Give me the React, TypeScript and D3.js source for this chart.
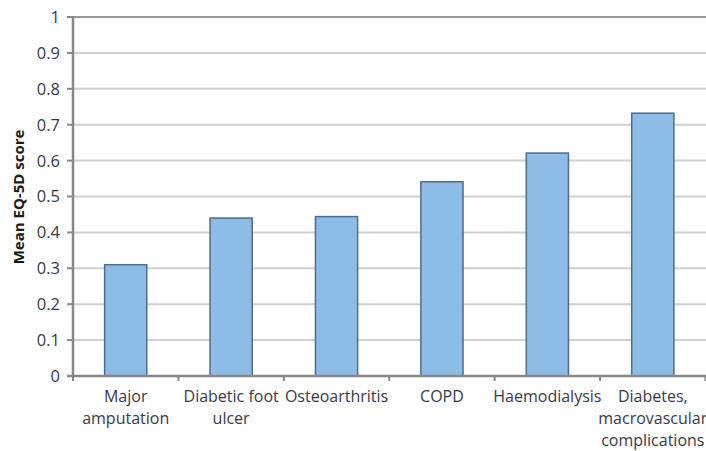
import React from "react";
import * as d3 from "d3";

const categories: string[][] = [
  ["Major", "amputation"],
  ["Diabetic foot", "ulcer"],
  ["Osteoarthritis"],
  ["COPD"],
  ["Haemodialysis"],
  ["Diabetes,", "macrovascular", "complications"],
];
const values: number[] = [0.31, 0.44, 0.444, 0.541, 0.621, 0.732];
const yTicks: number[] = [0, 0.1, 0.2, 0.3, 0.4, 0.5, 0.6, 0.7, 0.8, 0.9, 1];
const yTitle = "Mean EQ-5D score";

const W = 706;
const H = 451;
const left = 73;
const right = 705.5;
const top = 17;
const bottom = 376;
const FONT = "'Open Sans', sans-serif";
const TEXT = "#3a3a4a";

export default function App() {
  const ids = categories.map((_, i) => String(i));
  const x = d3.scaleBand<string>().domain(ids).range([left, right]).paddingInner(0.6).paddingOuter(0.3);
  const y = d3.scaleLinear().domain([0, 1]).range([bottom, top]);
  const step = x.step();
  const boundaries = d3.range(categories.length + 1).map((i) => left + i * step);

  return (
    <svg width={W} height={H} style={{ position: "absolute", left: 0, top: 0, background: "#fff" }}>
      {/* gridlines */}
      {yTicks.filter((t) => t > 0).map((t) => (
        <line key={"g" + t} x1={left} x2={W} y1={y(t)} y2={y(t)}
          stroke={t === 1 ? "#9a9a9a" : "#d0d0d0"} strokeWidth={2} />
      ))}
      {/* bars */}
      {values.map((v, i) => (
        <rect key={"b" + i} x={x(String(i))!} y={y(v)} width={x.bandwidth()} height={bottom - y(v)}
          fill="#8dbde6" stroke="#4f6d8c" strokeWidth={1.5} />
      ))}
      {/* y axis */}
      <line x1={left} x2={left} y1={top - 1} y2={bottom + 1} stroke="#888" strokeWidth={2.5} />
      {yTicks.map((t) => (
        <g key={"t" + t}>
          <line x1={left - 6} x2={left} y1={y(t)} y2={y(t)} stroke="#888" strokeWidth={2} />
          <text x={60} y={y(t)} dy="0.36em" textAnchor="end" fontFamily={FONT} fontSize={16.5} fill={TEXT}>
            {d3.format("")(t)}
          </text>
        </g>
      ))}
      {/* x axis */}
      <line x1={left - 6} x2={W} y1={bottom} y2={bottom} stroke="#888" strokeWidth={2.5} />
      {boundaries.map((b, i) => (
        <line key={"xt" + i} x1={b} x2={b} y1={bottom} y2={bottom + 5} stroke="#888" strokeWidth={2} />
      ))}
      {categories.map((lines, i) => (
        <text key={"c" + i} x={x(String(i))! + x.bandwidth() / 2} y={402} textAnchor="middle"
          fontFamily={FONT} fontSize={16} fill={TEXT}>
          {lines.map((l, j) => (
            <tspan key={j} x={x(String(i))! + x.bandwidth() / 2} dy={j === 0 ? 0 : 22}>{l}</tspan>
          ))}
        </text>
      ))}
      {/* y title */}
      <text transform="translate(24,197) rotate(-90)" textAnchor="middle"
        fontFamily={FONT} fontSize={15} fontWeight="bold" fill="#1a1a1a">
        {yTitle}
      </text>
    </svg>
  );
}
